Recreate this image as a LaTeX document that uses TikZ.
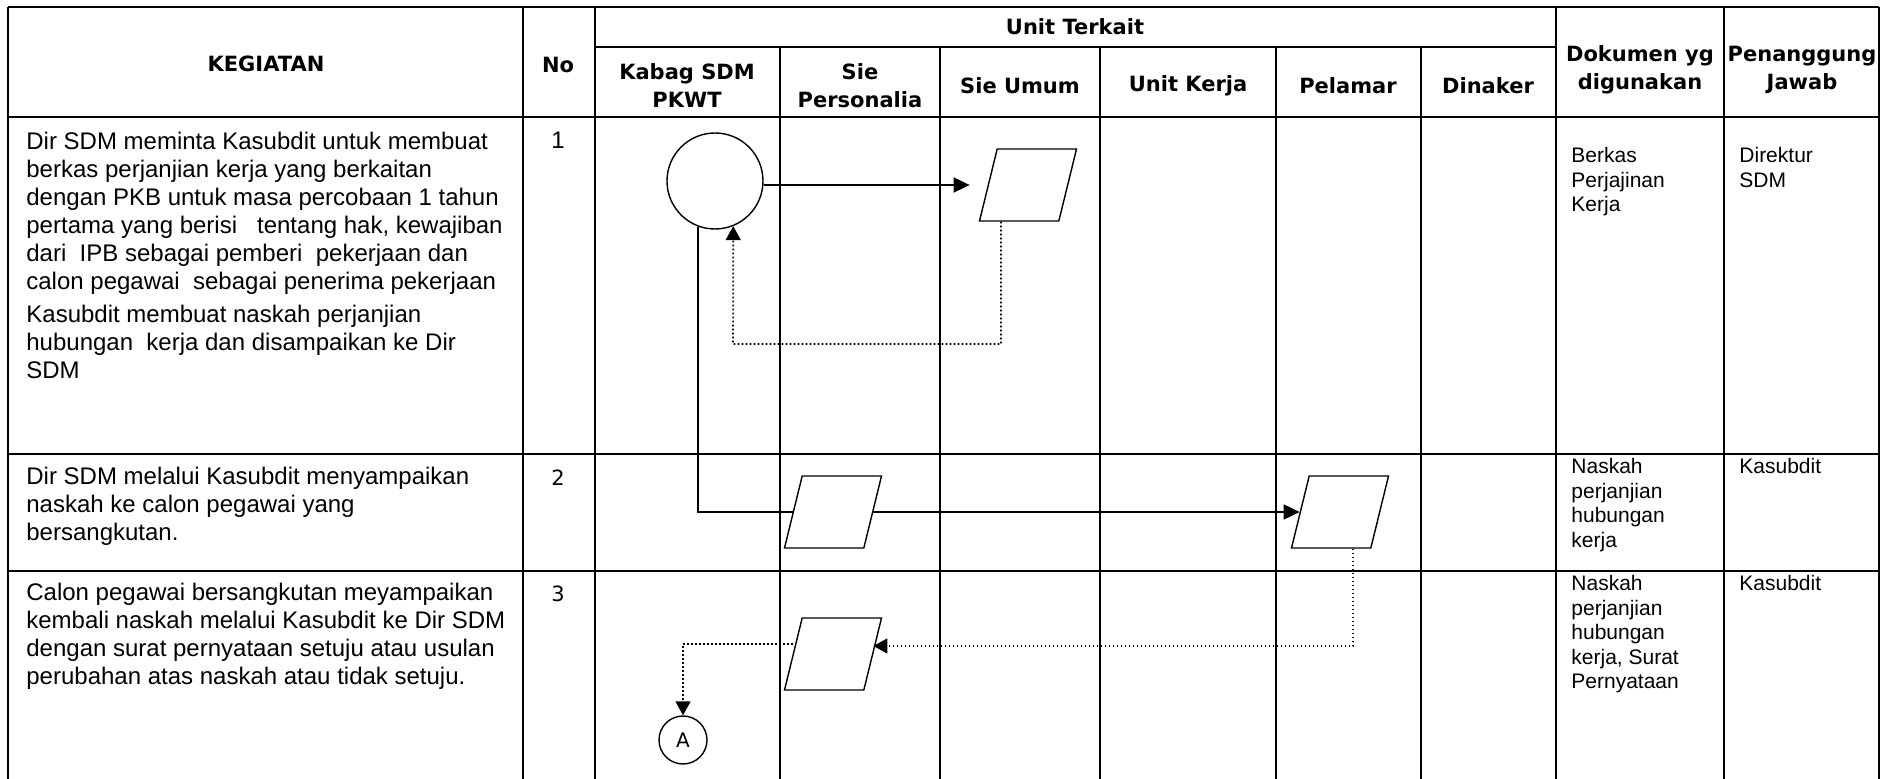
\documentclass[tikz,border=0pt]{standalone}
\usepackage{fontspec}
\setmainfont{Liberation Sans}
\newfontfamily\headfont{DejaVu Sans}
\usepackage{tikz}
\usetikzlibrary{shapes.geometric, arrows.meta, positioning}

\begin{document}
\begin{tikzpicture}[x=0.5pt, y=-0.5pt]
    \tikzstyle{gridline} = [line width=0.9pt]

    \tikzstyle{head} = [
        font=\headfont\bfseries\fontsize{10.5}{14}\selectfont,
        align=center, inner sep=0
    ]

    \tikzstyle{num} = [font=\headfont\fontsize{10.5}{14}\selectfont, inner sep=0]

    \tikzstyle{keg} = [
        font=\fontsize{12}{14}\selectfont, align=left,
        anchor=north west, inner sep=0
    ]

    \tikzstyle{doc} = [
        font=\fontsize{10.5}{12.25}\selectfont, align=left,
        anchor=north west, inner sep=0
    ]

    \tikzstyle{terminal} = [
        circle, draw, line width=0.7pt, minimum size=48pt, inner sep=0
    ]

    \tikzstyle{conn} = [
        circle, draw, line width=0.7pt, minimum size=24pt, inner sep=0,
        font=\headfont\fontsize{10}{12}\selectfont
    ]

    \tikzstyle{doku} = [
        trapezium, trapezium left angle=74, trapezium right angle=106,
        trapezium stretches=true, draw, fill=white, line width=0.7pt,
        minimum width=48.5pt, minimum height=36pt, inner sep=1pt
    ]

    \tikzstyle{alur} = [line width=0.9pt]
    \tikzstyle{flow} = [line width=0.9pt, -{Triangle[length=8pt, width=7.5pt]}]
    \tikzstyle{retur} = [
        line width=0.8pt, dash pattern=on 0.8pt off 1.2pt,
        -{Triangle[length=7pt, width=7.5pt]}
    ]

    \useasboundingbox (0,0) rectangle (1894,779);

    % Table lines
    \draw[gridline] (8,7) -- (1879,7);
    \draw[gridline] (595,47) -- (1556,47);
    \foreach \y in {117, 454, 571} {
        \draw[gridline] (8,\y) -- (1879,\y);
    }
    \foreach \x in {8, 523, 595, 1556, 1724, 1879} {
        \draw[gridline] (\x,7) -- (\x,779);
    }
    \foreach \x in {780, 940, 1100, 1276, 1421} {
        \draw[gridline] (\x,47) -- (\x,779);
    }

    % Header
    \node[head] (kegiatan) at (266,64) {KEGIATAN};
    \node[head] (no) at (558,65) {No};
    \node[head] (unit) at (1075,27) {Unit Terkait};
    \node[head] (kabag) at (687,86) {Kabag SDM\\PKWT};
    \node[head] (siepers) at (860,86) {Sie\\Personalia};
    \node[head] (sieumum) at (1020,86) {Sie Umum};
    \node[head] (unitkerja) at (1188,86) {Unit Kerja};
    \node[head] (pelamar) at (1348,86) {Pelamar};
    \node[head] (dinaker) at (1488,86) {Dinaker};
    \node[head] (dokumen) at (1640,70) {Dokumen yg\\digunakan};
    \node[head] (pj) at (1802,70) {Penanggung\\Jawab};

    % Row 1
    \node[keg] (keg1) at (26,132) {
        Dir SDM meminta Kasubdit untuk membuat\\
        berkas perjanjian kerja yang berkaitan\\
        dengan PKB untuk masa percobaan 1 tahun\\
        pertama yang berisi\ \ \ tentang hak, kewajiban\\
        dari\ \ IPB sebagai pemberi\ \ pekerjaan dan\\
        calon pegawai\ \ sebagai penerima pekerjaan\\[2.5pt]
        Kasubdit membuat naskah perjanjian\\
        hubungan\ \ kerja dan disampaikan ke Dir\\
        SDM
    };
    \node[keg, anchor=center] (no1) at (558,140) {1};
    \node[doc] (doc1) at (1571,147) {Berkas\\Perjajinan\\Kerja};
    \node[doc] (pj1) at (1739,147) {Direktur\\SDM};

    \node[terminal] (start) at (715,181) {};
    \node[doku] (umum1) at (1028,185) {};

    % Row 2
    \node[keg] (keg2) at (26,467) {
        Dir SDM melalui Kasubdit menyampaikan\\
        naskah ke calon pegawai yang\\
        bersangkutan.
    };
    \node[num] (no2) at (558,478) {2};
    \node[doc] (doc2) at (1571,458) {Naskah\\perjanjian\\hubungan\\kerja};
    \node[doc] (pj2) at (1739,458) {Kasubdit};

    \node[doku] (sp2) at (833,512) {};
    \node[doku] (pel2) at (1340,512) {};

    % Row 3
    \node[keg] (keg3) at (26,583) {
        Calon pegawai bersangkutan meyampaikan\\
        kembali naskah melalui Kasubdit ke Dir SDM\\
        dengan surat pernyataan setuju atau usulan\\
        perubahan atas naskah atau tidak setuju.
    };
    \node[num] (no3) at (558,594) {3};
    \node[doc] (doc3) at (1571,575) {Naskah\\perjanjian\\hubungan\\kerja, Surat\\Pernyataan};
    \node[doc] (pj3) at (1739,575) {Kasubdit};

    \node[doku] (sp3) at (833,654) {};
    \node[conn] (conA) at (683,740) {A};

    \coordinate (ret1) at (733,344);

    % Connectors
    \draw[flow] ([yshift=-2pt]start.east) -- ([xshift=-9pt]umum1.left side);
    \draw[retur] ([xshift=-9pt]umum1.bottom side) |- (ret1) -- (start.-68);
    \draw[alur] (start.-110) |- (sp2.left side);
    \draw[flow] (sp2.right side) -- (pel2.left side);
    \draw[retur] ([xshift=11pt]pel2.bottom side) |- ([yshift=4pt]sp3.right side);
    \draw[retur] ([yshift=5pt]sp3.left side) -| (conA.north);

\end{tikzpicture}
\end{document}
